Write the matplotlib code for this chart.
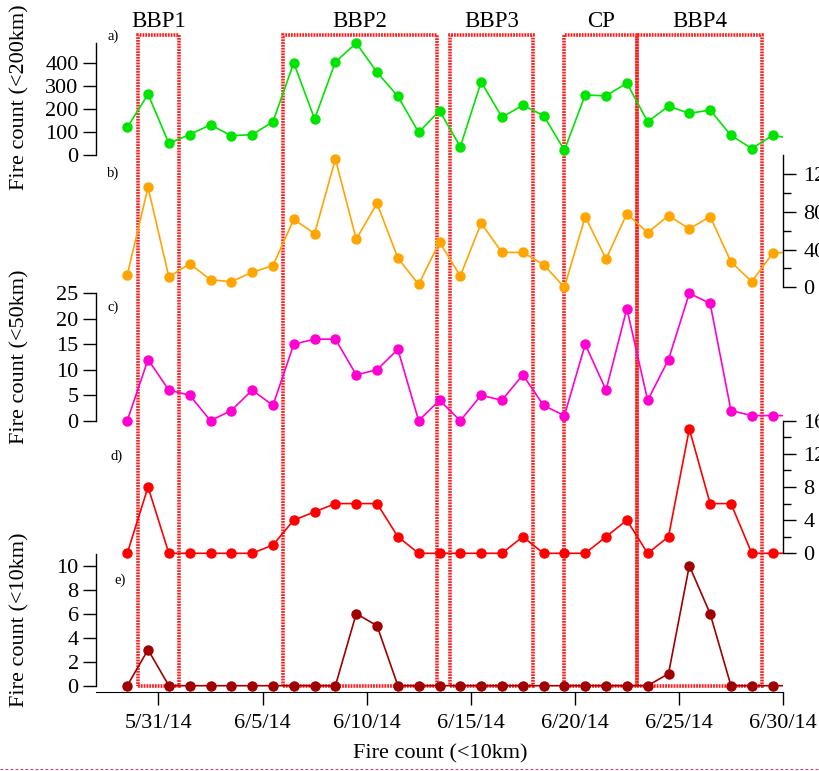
import matplotlib
matplotlib.use("Agg")
import matplotlib.pyplot as plt
import matplotlib.dates as mdates
import pandas as pd
from datetime import datetime
from matplotlib.patches import Rectangle
from matplotlib.lines import Line2D

plt.rcParams['font.family'] = ['Liberation Serif', 'DejaVu Serif']

# daily fire counts, one value per day starting 5/29/14
dates = pd.date_range("2014-05-29 12:00", periods=33, freq="D")
fires_200km = [120, 265, 51, 89, 132, 84, 89, 145, 402, 157, 406, 488, 361, 256, 99, 193,
               36, 319, 165, 217, 172, 21, 262, 258, 314, 145, 213, 182, 196, 86, 28, 86, 70]
fires_b = [13, 106, 11, 25, 8, 6, 16, 23, 72, 57, 136, 51, 89, 31, 3, 48,
           12, 68, 37, 37, 24, 0, 75, 30, 78, 58, 76, 62, 75, 27, 6, 36, 38]
fires_50km = [0, 12, 6, 5, 0, 2, 6, 3, 15, 16, 16, 9, 10, 14, 0, 4,
              0, 5, 4, 9, 3, 1, 15, 6, 22, 4, 12, 25, 23, 2, 1, 1, 1]
fires_d = [0, 8, 0, 0, 0, 0, 0, 1, 4, 5, 6, 6, 6, 2, 0, 0,
           0, 0, 0, 2, 0, 0, 0, 2, 4, 0, 2, 15, 6, 6, 0, 0, 0]
fires_10km = [0, 3, 0, 0, 0, 0, 0, 0, 0, 0, 0, 6, 5, 0, 0, 0,
              0, 0, 0, 0, 0, 0, 0, 0, 0, 0, 1, 10, 6, 0, 0, 0, 0]

# burning periods
period_names = ["BBP1", "BBP2", "BBP3", "CP", "BBP4"]
period_starts = ["2014-05-30 00:00", "2014-06-06 00:00", "2014-06-14 00:00",
                 "2014-06-19 12:00", "2014-06-23 00:00"]
period_ends = ["2014-06-01 00:00", "2014-06-13 09:00", "2014-06-18 00:00",
               "2014-06-23 00:00", "2014-06-29 00:00"]

tick_dates = ["2014-05-31", "2014-06-05", "2014-06-10", "2014-06-15",
              "2014-06-20", "2014-06-25", "2014-06-30"]
tick_labels = ["5/31/14", "6/5/14", "6/10/14", "6/15/14", "6/20/14", "6/25/14", "6/30/14"]

W, H = 819, 771
X0, X1 = 96, 783
xmin, xmax = datetime(2014, 5, 28), datetime(2014, 6, 30)

fig = plt.figure(figsize=(W / 100, H / 100), dpi=100)


def rect(ytop, ybot):
    return [X0 / W, 1 - ybot / H, (X1 - X0) / W, (ybot - ytop) / H]


# boxes for the periods, drawn behind the data
ax_box = fig.add_axes(rect(35, 686))
ax_box.set_xlim(xmin, xmax)
ax_box.set_ylim(0, 1)
ax_box.axis("off")
for name, s, e in zip(period_names, period_starts, period_ends):
    s, e = mdates.date2num(pd.Timestamp(s)), mdates.date2num(pd.Timestamp(e))
    ax_box.add_patch(Rectangle((s, 0), e - s, 1, fill=False, edgecolor="#ff1e1e",
                               lw=2.6, ls=(0, (0.5, 0.28)), clip_on=False))
    ax_box.text((s + e) / 2, 1.0215, name, ha="center", va="center",
                fontsize=16.5, clip_on=False)


def panel(zero_px, top_px, vmax, side, values, color, major, minor=None):
    pad = 14
    scale = (zero_px - top_px) / vmax
    ax = fig.add_axes(rect(top_px - pad, zero_px + pad))
    ax.set_xlim(xmin, xmax)
    ax.set_ylim(-pad / scale, vmax + pad / scale)
    ax.patch.set_visible(False)
    for sp in ax.spines.values():
        sp.set_visible(False)
    ax.spines[side].set_visible(True)
    ax.spines[side].set_bounds(0, vmax)
    ax.spines[side].set_linewidth(1.0)
    if side == "right":
        ax.yaxis.tick_right()
        lpad = 5
    else:
        ax.yaxis.tick_left()
        lpad = 3
    ax.set_yticks(major)
    if minor:
        ax.set_yticks(minor, minor=True)
    ax.tick_params(axis="y", which="major", length=9.5, width=1, labelsize=16, pad=lpad)
    ax.tick_params(axis="y", which="minor", length=5.5, width=1)
    ax.set_xticks([])
    ax.plot(dates, values, "-o", color=color, lw=1.2, ms=6.5)
    return ax


panel(155, 42.7, 490, "left", fires_200km, "#00e400", [0, 100, 200, 300, 400])
panel(287.3, 155.3, 140, "right", fires_b, "#ffa500", [0, 40, 80, 120], [20, 60, 100])
panel(420.7, 293.3, 25, "left", fires_50km, "#ff00d0", [0, 5, 10, 15, 20, 25])
panel(553.3, 420.7, 16, "right", fires_d, "#ff0000", [0, 4, 8, 12, 16], [2, 6, 10, 14])
panel(685.7, 553.7, 11, "left", fires_10km, "#a00000", [0, 2, 4, 6, 8, 10])

# shared date axis
ax_x = fig.add_axes(rect(680, 692.3))
ax_x.set_xlim(xmin, xmax)
ax_x.patch.set_visible(False)
for k in ["left", "right", "top"]:
    ax_x.spines[k].set_visible(False)
ax_x.set_yticks([])
ax_x.set_xticks([pd.Timestamp(d) for d in tick_dates])
ax_x.set_xticklabels(tick_labels)
ax_x.tick_params(axis="x", length=9.5, width=1, labelsize=16, pad=6)

fig.text(440 / W, 1 - 753.7 / H, "Fire count (<10km)", ha="center", va="center", fontsize=16)
fig.text(20 / W, 1 - 97.5 / H, "Fire count (<200km)", rotation=90, ha="center", va="center", fontsize=16)
fig.text(20 / W, 1 - 357 / H, "Fire count (<50km)", rotation=90, ha="center", va="center", fontsize=16)
fig.text(20 / W, 1 - 620 / H, "Fire count (<10km)", rotation=90, ha="center", va="center", fontsize=16)

for lab, x, y in [("a)", 113, 36), ("b)", 113, 173), ("c)", 113, 307), ("d)", 117, 456), ("e)", 120, 580)]:
    fig.text(x / W, 1 - y / H, lab, ha="center", va="center", fontsize=10.5)

fig.add_artist(Line2D([0, 1], [1 - 768.7 / H] * 2, transform=fig.transFigure,
                      color="#d8406a", lw=0.8, ls=(0, (2.5, 2))))

fig.savefig("out.png", dpi=100)
